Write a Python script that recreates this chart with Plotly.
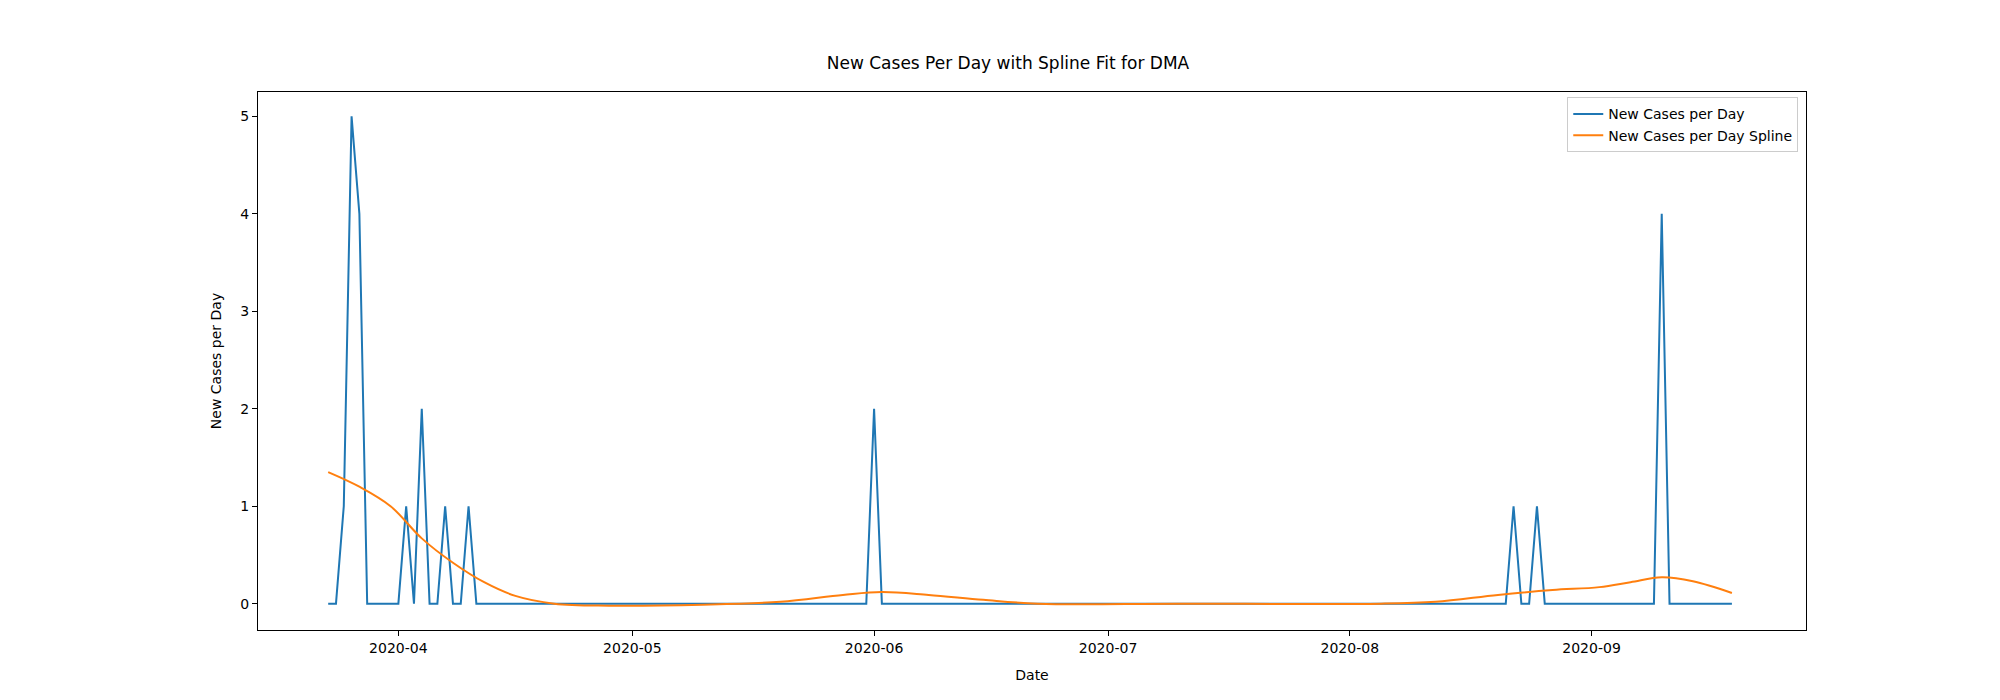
import plotly.graph_objects as go
import pandas as pd

# daily new cases, 2020-03-23 .. 2020-09-19
start = '2020-03-23'
end = '2020-09-19'
spikes = {'2020-03-25': 1, '2020-03-26': 5, '2020-03-27': 4, '2020-04-02': 1,
          '2020-04-04': 2, '2020-04-07': 1, '2020-04-10': 1, '2020-06-01': 2,
          '2020-08-22': 1, '2020-08-25': 1, '2020-09-10': 4}
dates = pd.date_range(start, end, freq='D')
cases = [spikes.get(d.strftime('%Y-%m-%d'), 0) for d in dates]

spline_dates = ['2020-03-23', '2020-03-27', '2020-03-31', '2020-04-04', '2020-04-08',
                '2020-04-12', '2020-04-16', '2020-04-21', '2020-04-28', '2020-05-10',
                '2020-05-20', '2020-05-28', '2020-06-02', '2020-06-08', '2020-06-15',
                '2020-06-22', '2020-07-10', '2020-08-05', '2020-08-12', '2020-08-20',
                '2020-08-27', '2020-09-02', '2020-09-06', '2020-09-10', '2020-09-14',
                '2020-09-19']
spline_vals = [1.35, 1.2, 1.0, 0.67, 0.42, 0.22, 0.08, 0.0, -0.02, -0.01,
               0.02, 0.09, 0.12, 0.09, 0.04, 0.0, 0.0, 0.0, 0.02, 0.09,
               0.14, 0.17, 0.22, 0.27, 0.23, 0.11]

fig = go.Figure()
fig.add_trace(go.Scatter(x=dates, y=cases, mode='lines', name='New Cases per Day',
                         line=dict(color='#1f77b4', width=2)))
fig.add_trace(go.Scatter(x=spline_dates, y=spline_vals, mode='lines',
                         name='New Cases per Day Spline',
                         line=dict(color='#ff7f0e', width=2, shape='spline')))

axis_style = dict(showline=True, mirror=True, linecolor='black', linewidth=1,
                  ticks='outside', ticklen=5, tickcolor='black', showgrid=False,
                  zeroline=False, tickfont=dict(size=14, color='black'))
fig.update_layout(
    width=2000, height=700, plot_bgcolor='white', paper_bgcolor='white',
    margin=dict(l=250, r=202, t=84, b=78),
    font=dict(family='DejaVu Sans', color='black'),
    title=dict(text='New Cases Per Day with Spline Fit for DMA', x=0.5,
               xanchor='center', y=0.93, font=dict(size=17)),
    legend=dict(x=0.995, y=0.99, xanchor='right', yanchor='top',
                bordercolor='#cccccc', borderwidth=1, font=dict(size=14)),
    showlegend=True,
)
fig.update_xaxes(axis_style, title=dict(text='Date', font=dict(size=14)),
                 range=['2020-03-14', '2020-09-28 12:00'], dtick='M1',
                 tickformat='%Y-%m')
fig.update_yaxes(axis_style, title=dict(text='New Cases per Day', font=dict(size=14)),
                 range=[-0.27, 5.25], dtick=1)

fig.write_html('out.html')
